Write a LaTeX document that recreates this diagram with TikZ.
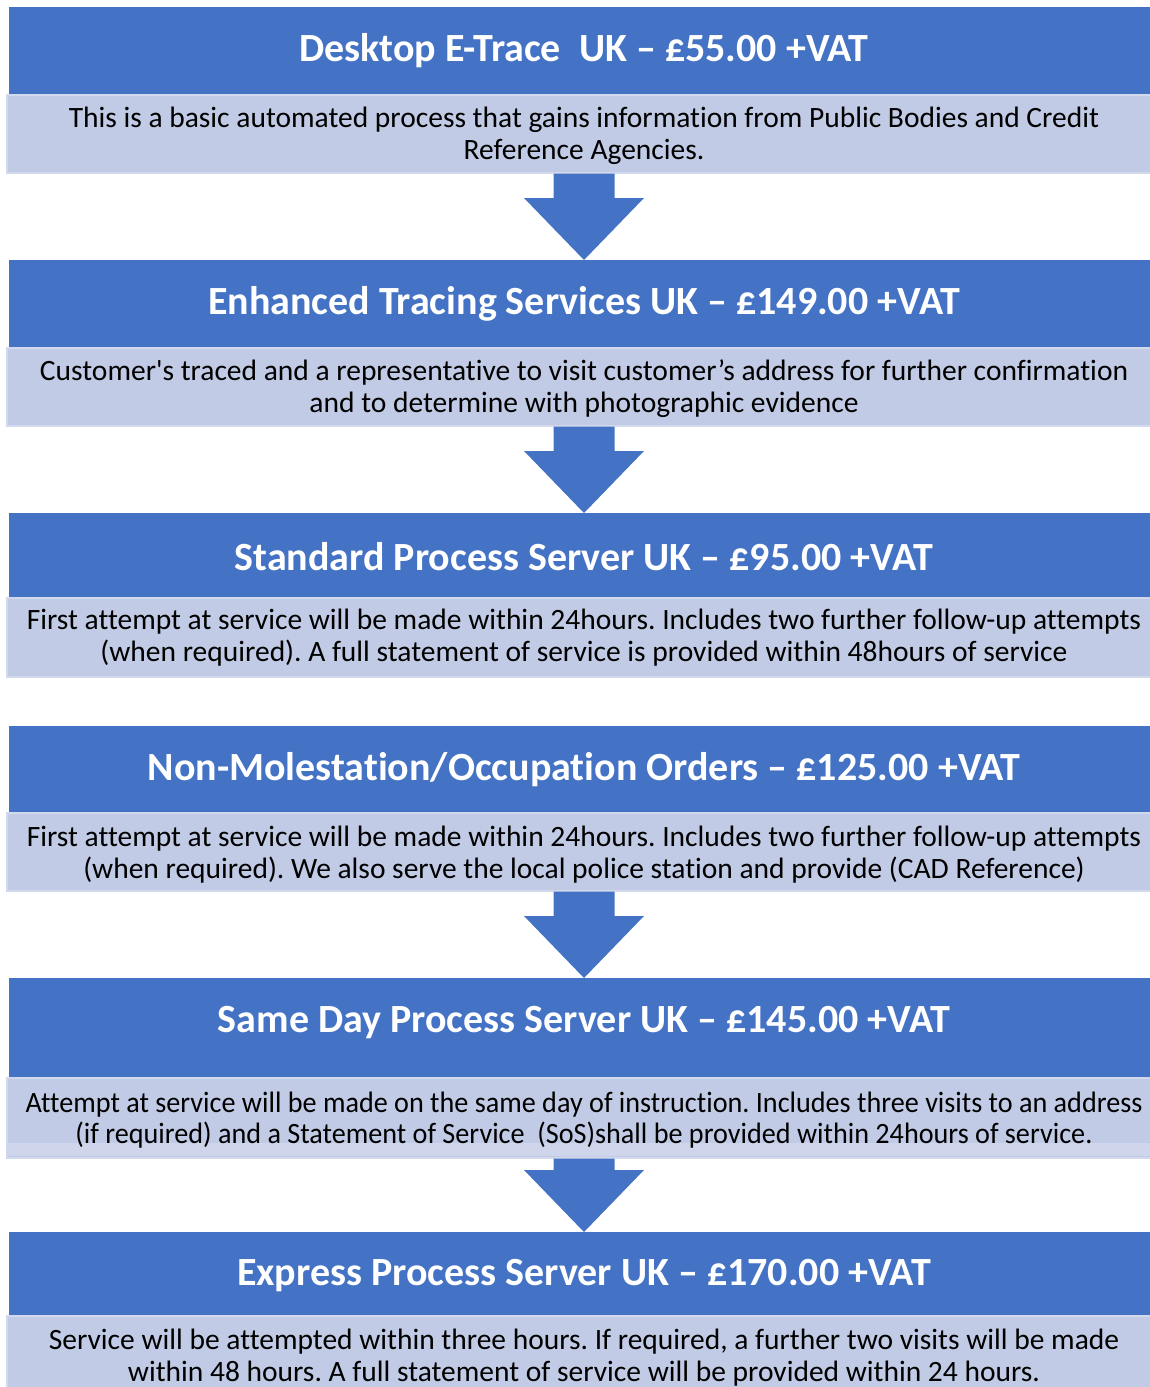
\documentclass[tikz,border=0pt]{standalone}
\usepackage{fontspec}
\setmainfont{Carlito}
\newfontfamily\calfont[Ligatures={NoCommon}]{Carlito}
\usetikzlibrary{calc}
\frenchspacing
\definecolor{hblue}{HTML}{4472C4}
\definecolor{lblue}{HTML}{C1CBE5}
\definecolor{lborder}{HTML}{D3D9EC}
\definecolor{lband}{HTML}{CFD6EB}
\tikzset{
  hdrbox/.style={fill=hblue, draw=none, anchor=north west, minimum width=1150pt, inner sep=0pt},
  lightbox/.style={fill=lblue, draw=lborder, line width=1.5pt, anchor=north west, minimum width=1160pt, inner sep=0pt},
  hdrtext/.style={text=white, font=\calfont\fontsize{40}{44}\selectfont\bfseries, inner sep=0pt},
  bodytext/.style={text=black, font=\calfont\fontsize{29.5}{32}\selectfont\frenchspacing, align=center, inner sep=0pt},
  downarrow/.style={fill=hblue, draw=none}
}
\begin{document}
\begin{tikzpicture}[x=1pt,y=-1pt]
\clip (0,0) rectangle (1150,1387);
\fill[white] (0,0) rectangle (1150,1387);
% boxes
\node[hdrbox, minimum height=87pt] (h1) at (9,7) {};
\node[lightbox, minimum height=78pt] (l1) at (6,94) {};
\node[hdrbox, minimum height=87pt] (h2) at (9,260) {};
\node[lightbox, minimum height=78pt] (l2) at (6,347) {};
\node[hdrbox, minimum height=84pt] (h3) at (9,513) {};
\node[lightbox, minimum height=79pt] (l3) at (6,597) {};
\node[hdrbox, minimum height=86pt] (h4) at (9,726) {};
\node[lightbox, minimum height=78pt] (l4) at (6,812) {};
\node[hdrbox, minimum height=99pt] (h5) at (9,978) {};
\node[lightbox, minimum height=80pt] (l5) at (6,1077) {};
\fill[lband] (7,1143) rectangle (1150,1156);
\node[hdrbox, minimum height=83pt] (h6) at (9,1232) {};
\node[lightbox, minimum height=80pt] (l6) at (6,1315) {};
% texts
\node[hdrtext] (t1) at (584,51) {Desktop E-Trace\ \ UK – £55.00 +VAT};
\node[bodytext] (b1) at (584,136) {This is a basic automated process that gains information from Public Bodies and Credit\\Reference Agencies.};
\node[hdrtext] (t2) at (584,304) {Enhanced Tracing Services UK – £149.00 +VAT};
\node[bodytext] (b2) at (584,389) {Customer's traced and a representative to visit customer’s address for further confirmation\\and to determine with photographic evidence};
\node[hdrtext] (t3) at (584,557) {Standard Process Server UK – £95.00 +VAT};
\node[bodytext] (b3) at (584,638) {First attempt at service will be made within 24hours. Includes two further follow-up attempts\\(when required). A full statement of service is provided within 48hours of service};
\node[hdrtext] (t4) at (584,770) {Non-Molestation/Occupation Orders – £125.00 +VAT};
\node[bodytext] (b4) at (584,855) {First attempt at service will be made within 24hours. Includes two further follow-up attempts\\(when required). We also serve the local police station and provide (CAD Reference)};
\node[hdrtext] (t5) at (584,1023) {Same Day Process Server UK – £145.00 +VAT};
\node[bodytext] (b5) at (584,1120) {\scalebox{0.955}[1]{\shortstack{Attempt at service will be made on the same day of instruction. Includes three visits to an address\\[2pt](if required) and a Statement of Service\ \ (SoS)shall be provided within 24hours of service.}}};
\node[hdrtext] (t6) at (584,1276) {Express Process Server UK – £170.00 +VAT};
\node[bodytext] (b6) at (584,1358) {Service will be attempted within three hours. If required, a further two visits will be made\\within 48 hours. A full statement of service will be provided within 24 hours.};
% arrows
\foreach \a/\b in {l1/h2, l2/h3, l4/h5, l5/h6} {
  \fill[downarrow] (553.5,0 |- \a.south) -- (614.5,0 |- \a.south)
    -- ($(614.5,0 |- \b.north)+(0,-62)$) -- ($(644,0 |- \b.north)+(0,-62)$)
    -- (584,0 |- \b.north)
    -- ($(524,0 |- \b.north)+(0,-62)$) -- ($(553.5,0 |- \b.north)+(0,-62)$) -- cycle;
}
\end{tikzpicture}
\end{document}
